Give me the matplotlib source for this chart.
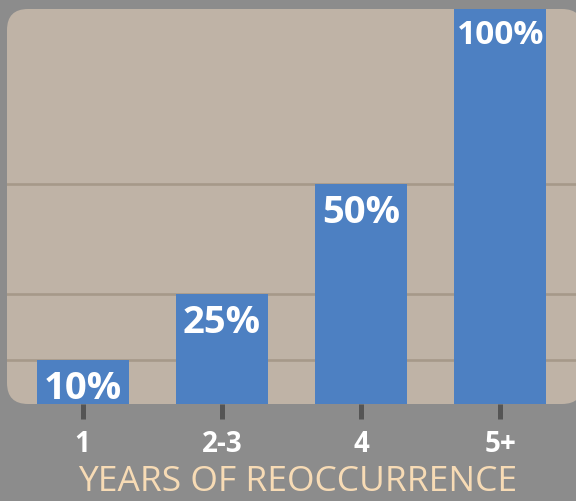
import matplotlib
matplotlib.use("Agg")
import matplotlib.pyplot as plt
from matplotlib.patches import FancyBboxPatch
import matplotlib.transforms as mtransforms

categories = ["1", "2-3", "4", "5+"]
values = [10, 25, 50, 100]
value_labels = ["10%", "25%", "50%", "100%"]
grid_values = [10, 25, 50]
x_title = "YEARS OF REOCCURRENCE"

BG = "#8c8c8c"
PANEL = "#bfb3a6"
BAR = "#4d80c2"
GRID = "#a69989"
TICK = "#555555"
TITLE = "#f7dbb5"

W, H, DPI = 576, 501, 100
fig = plt.figure(figsize=(W / DPI, H / DPI), dpi=DPI, facecolor=BG)

# panel in pixel space (top-left origin in reference): x 7..583, y 9..404
px_l, px_r, px_t, px_b = 7, 583, 9, 404
ax = fig.add_axes([px_l / W, (H - px_b) / H, (px_r - px_l) / W, (px_b - px_t) / H])
ax.set_facecolor("none")

panel = FancyBboxPatch((px_l / DPI, (H - px_b) / DPI), (px_r - px_l) / DPI, (px_b - px_t) / DPI,
                       boxstyle="round,pad=0,rounding_size=0.21",
                       transform=fig.dpi_scale_trans, facecolor=PANEL, edgecolor="none",
                       zorder=0)
fig.add_artist(panel)
panel.set_zorder(-10)

spacing = 139.2
first_center = 75.7
axw = px_r - px_l
ax.set_xlim(-first_center / spacing, (axw - first_center) / spacing)
scale = 4.4
ax.set_ylim(0, (px_b - px_t) / scale)
ytop = (px_b - px_t) / scale

xs = list(range(len(categories)))
for g in grid_values:
    ax.axhline(g, color=GRID, lw=1.9, zorder=1)
ax.bar(xs, values, width=92 / spacing, color=BAR, zorder=2)

for spine in ax.spines.values():
    spine.set_visible(False)
ax.set_yticks([])
ax.set_xticks(xs)
ax.set_xticklabels([])
ax.tick_params(axis="x", direction="out", length=10.5, width=3.6, color=TICK)

vfont = "Open Sans"
for x, v, lab in zip(xs, values, value_labels):
    if v > ytop:
        y, off, fs = ytop, -35, 24
    else:
        y, off, fs = v, -39, 27.5
    ax.annotate(lab, (x, y), xytext=(0, off), textcoords="offset pixels",
                ha="center", va="baseline", color="white", fontsize=fs,
                fontweight="bold", family=vfont, zorder=3, annotation_clip=False)

trans = mtransforms.blended_transform_factory(ax.transData, fig.transFigure)
for x, c in zip(xs, categories):
    ax.text(x, (H - 452) / H, c, transform=trans, ha="center", va="baseline",
            color="white", fontsize=20, fontweight="bold", family=vfont, clip_on=False)

fig.text(298 / W, (H - 491) / H, x_title, ha="center", va="baseline", color=TITLE,
         fontsize=25.5, fontweight="normal", family=vfont)

fig.savefig("out.png", dpi=DPI, facecolor=BG)
